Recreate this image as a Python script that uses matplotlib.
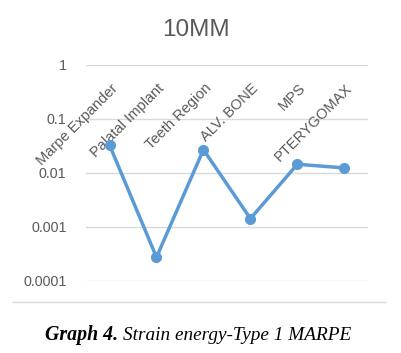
import matplotlib.pyplot as plt
from matplotlib.lines import Line2D

categories = ['Marpe Expander', 'Palatal Implant', 'Teeth Region',
              'ALV. BONE', 'MPS', 'PTERYGOMAX']
energy = [0.033, 0.000275, 0.027, 0.00143, 0.0145, 0.0124]
yticks = [0.0001, 0.001, 0.01, 0.1, 1]
ytick_labels = ['0.0001', '0.001', '0.01', '0.1', '1']

grey = '#595959'
blue = '#5B9BD5'

fig = plt.figure(figsize=(4.02, 3.53), dpi=100)
ax = fig.add_axes([0.214, 0.204, 0.701, 0.612])

x = list(range(len(categories)))
ax.plot(x, energy, color=blue, lw=2.5, marker='o', markersize=7, zorder=3)

ax.set_yscale('log')
ax.set_ylim(1e-4, 1)
ax.set_xlim(-0.5, len(categories) - 0.5)
ax.set_yticks(yticks)
ax.set_yticklabels(ytick_labels, fontsize=10.3, color=grey, family='Liberation Sans')
ax.minorticks_off()
ax.tick_params(axis='y', length=0, pad=14)
ax.set_xticks([])
ax.grid(axis='y', color='#D9D9D9', lw=1)
for s in ax.spines.values():
    s.set_visible(False)

# category labels hang below the axis that crosses at 1
for xi, lab in zip(x, categories):
    ax.text(xi + 0.02, 0.5, lab, rotation=45, rotation_mode='anchor',
            ha='right', va='top', fontsize=10.5, color=grey,
            family='Liberation Sans', zorder=2)

fig.text(0.488, 0.915, '10MM', ha='center', va='center', fontsize=17.5,
         color=grey, family='Liberation Sans')

# bottom edge of chart frame
fig.add_artist(Line2D([13 / 402, 385 / 402], [1 - 301.5 / 353] * 2,
                      color='#D9D9D9', lw=1))

fig.text(118 / 402, 1 - 335 / 353, 'Graph 4.', ha='right', va='center',
         fontsize=14.3, family='Liberation Serif', weight='bold', style='italic')
fig.text(123 / 402, 1 - 335 / 353, 'Strain energy-Type 1 MARPE', ha='left',
         va='center', fontsize=13.9, family='Liberation Serif', style='italic')

fig.savefig('out.png', dpi=100)
